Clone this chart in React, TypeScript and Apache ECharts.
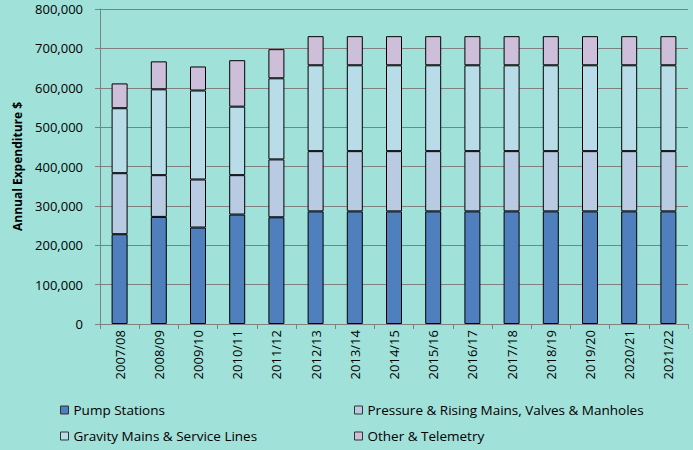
import React, { useEffect, useRef } from "react";
import * as echarts from "echarts";

const categories = ["2007/08","2008/09","2009/10","2010/11","2011/12","2012/13","2013/14","2014/15","2015/16","2016/17","2017/18","2018/19","2019/20","2020/21","2021/22"];
const pumpStations = [228000, 272000, 245000, 278000, 271000, 286000, 286000, 286000, 286000, 286000, 286000, 286000, 286000, 286000, 286000];
const pressureMains = [155000, 106000, 122000, 100000, 147000, 153000, 153000, 153000, 153000, 153000, 153000, 153000, 153000, 153000, 153000];
const gravityMains = [165000, 218000, 226000, 174000, 206000, 218000, 218000, 218000, 218000, 218000, 218000, 218000, 218000, 218000, 218000];
const otherTelemetry = [63000, 71000, 61000, 118000, 74000, 74000, 74000, 74000, 74000, 74000, 74000, 74000, 74000, 74000, 74000];
const seriesNames = ["Pump Stations", "Pressure & Rising Mains, Valves & Manholes", "Gravity Mains & Service Lines", "Other & Telemetry"];
const colors = ["#4f7fbc", "#b9cbe3", "#b8dde8", "#cdbfd9"];

export default function App() {
  const ref = useRef<HTMLDivElement>(null);
  useEffect(() => {
    const chart = echarts.init(ref.current!, null, { renderer: "svg" });
    const font = "'Open Sans', 'Noto Sans', sans-serif";
    const values = [pumpStations, pressureMains, gravityMains, otherTelemetry];
    const legendCommon = {
      orient: "vertical", top: 403, itemGap: 12, padding: 0,
      itemWidth: 8, itemHeight: 8, icon: "rect",
      itemStyle: { borderColor: "#333", borderWidth: 1 },
      textStyle: { fontSize: 13.5, color: "#000", fontFamily: font },
    };
    chart.setOption({
      animation: false,
      backgroundColor: "#a0e1d9",
      textStyle: { fontFamily: font },
      grid: { left: 100, right: 5, top: 9, bottom: 126 },
      legend: [
        { ...legendCommon, left: 60, data: [seriesNames[0], seriesNames[2]] },
        { ...legendCommon, left: 354, data: [seriesNames[1], seriesNames[3]] },
      ],
      xAxis: {
        type: "category",
        data: categories,
        axisLine: { lineStyle: { color: "#808080" } },
        axisTick: { show: true, length: 5, lineStyle: { color: "#808080" } },
        axisLabel: { rotate: 90, color: "#000", fontSize: 13, margin: 6, fontFamily: font },
      },
      yAxis: {
        type: "value",
        min: 0, max: 800000, interval: 100000,
        name: "Annual Expenditure $",
        nameLocation: "middle",
        nameGap: 77,
        nameTextStyle: { fontWeight: "bold", fontSize: 12, color: "#000", fontFamily: font },
        axisLine: { show: true, lineStyle: { color: "#808080" } },
        axisTick: { show: true, inside: false, length: 5, lineStyle: { color: "#808080" } },
        axisLabel: {
          color: "#000", fontSize: 13, margin: 17, fontFamily: font,
          formatter: (v: number) => v.toLocaleString("en-US"),
        },
        splitLine: { lineStyle: { color: "#808080", width: 1 } },
      },
      series: values.map((d, i) => ({
        name: seriesNames[i],
        type: "bar",
        stack: "total",
        data: d,
        barWidth: 16,
        itemStyle: { color: colors[i], borderColor: "#000", borderWidth: 1 },
      })),
    });
    return () => chart.dispose();
  }, []);
  return <div ref={ref} style={{ width: 693, height: 450, position: "absolute", left: 0, top: 0 }} />;
}
